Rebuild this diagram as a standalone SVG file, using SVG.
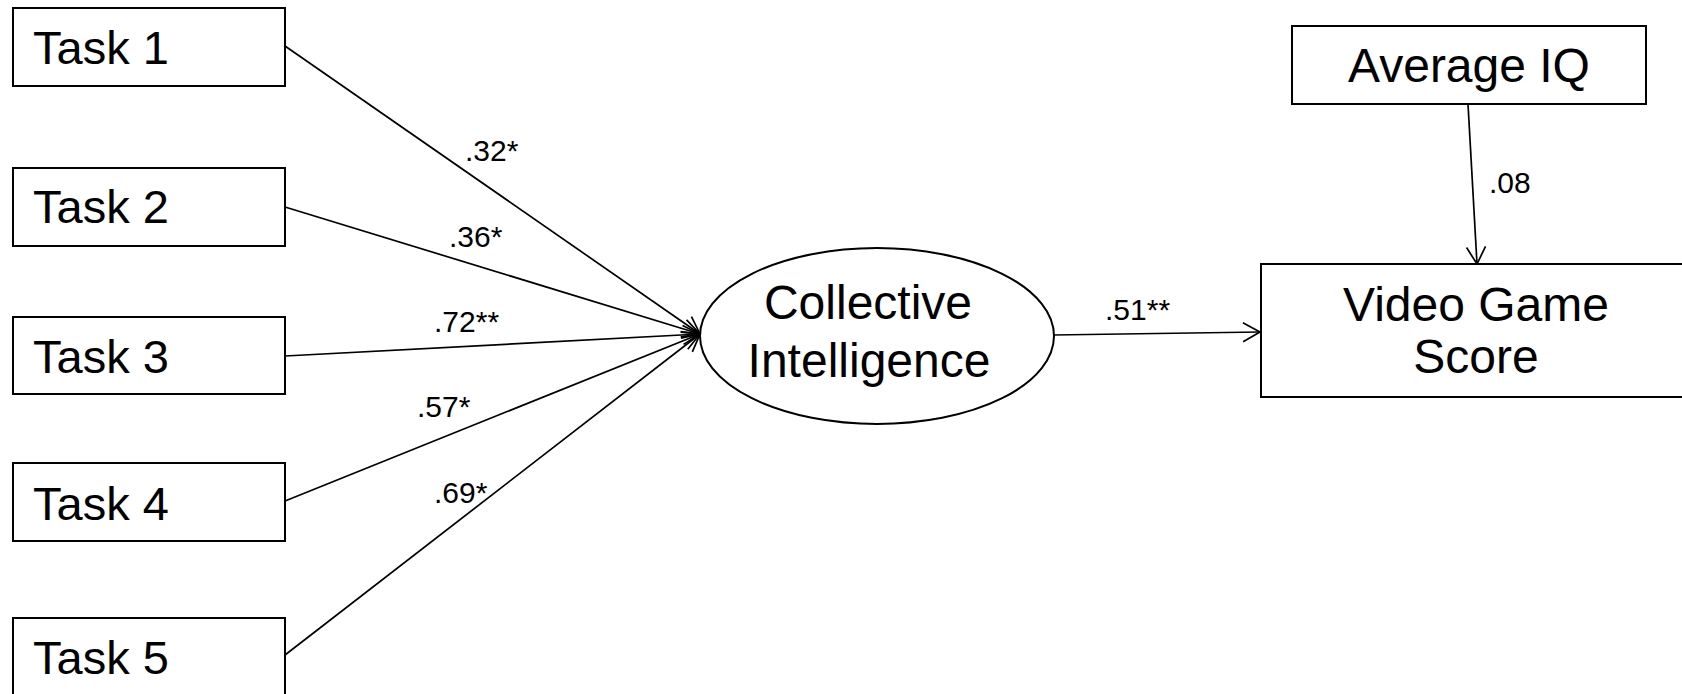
<svg xmlns="http://www.w3.org/2000/svg" width="1682" height="694" viewBox="0 0 1682 694">
<style>
.box{fill:#fff;stroke:#000;stroke-width:2}
.ell{fill:#fff;stroke:#000;stroke-width:2}
.big{font-family:"Liberation Sans",Arial,sans-serif;font-size:47px;fill:#000}
.mid{font-family:"Liberation Sans",Arial,sans-serif;font-size:48px;fill:#000}
.lab{font-family:"Liberation Sans",Arial,sans-serif;font-size:30px;fill:#000}
.edge{stroke:#000;stroke-width:1.7;fill:none;marker-end:url(#arr)}
</style>
<defs>
<marker id="arr" markerUnits="userSpaceOnUse" viewBox="-19 -12 21 24" markerWidth="21" markerHeight="24" refX="0" refY="0" orient="auto">
<path d="M-17,-9.5 L0,0 L-17,9.5" fill="none" stroke="#000" stroke-width="1.7"/>
</marker>
</defs>
<rect width="1682" height="694" fill="#fff"/>
<g id="connectors">
<line class="edge" x1="285" y1="46" x2="700" y2="334"/>
<line class="edge" x1="285" y1="207" x2="700" y2="334"/>
<line class="edge" x1="285" y1="356" x2="700" y2="334"/>
<line class="edge" x1="285" y1="501" x2="700" y2="334"/>
<line class="edge" x1="285" y1="655" x2="700" y2="334"/>
<line class="edge" x1="1053" y1="335" x2="1260" y2="332"/>
<line class="edge" x1="1468" y1="104" x2="1477" y2="264"/>
<text class="lab" x="465" y="161">.32*</text>
<text class="lab" x="449" y="247">.36*</text>
<text class="lab" x="434" y="332">.72**</text>
<text class="lab" x="417" y="417">.57*</text>
<text class="lab" x="434" y="503">.69*</text>
<text class="lab" x="1105" y="320">.51**</text>
<text class="lab" x="1489" y="193">.08</text>
</g>
<g id="task1"><rect class="box" x="13" y="8" width="272" height="78"/><text class="big" x="33" y="64">Task 1</text></g>
<g id="task2"><rect class="box" x="13" y="168" width="272" height="78"/><text class="big" x="33" y="223">Task 2</text></g>
<g id="task3"><rect class="box" x="13" y="317" width="272" height="77"/><text class="big" x="33" y="373">Task 3</text></g>
<g id="task4"><rect class="box" x="13" y="463" width="272" height="78"/><text class="big" x="33" y="520">Task 4</text></g>
<g id="task5"><rect class="box" x="13" y="618" width="272" height="90"/><text class="big" x="33" y="674">Task 5</text></g>
<g id="ci"><ellipse class="ell" cx="877" cy="336" rx="177" ry="88"/>
<text class="mid" x="868" y="319" text-anchor="middle">Collective</text>
<text class="mid" x="869" y="377" text-anchor="middle">Intelligence</text></g>
<g id="vgs"><rect class="box" x="1261" y="264" width="440" height="133"/>
<text class="mid" x="1476" y="321" text-anchor="middle">Video Game</text>
<text class="mid" x="1476" y="373" text-anchor="middle">Score</text></g>
<g id="iq"><rect class="box" x="1292" y="26" width="354" height="78"/>
<text class="mid" x="1469" y="82" text-anchor="middle">Average IQ</text></g>
</svg>
